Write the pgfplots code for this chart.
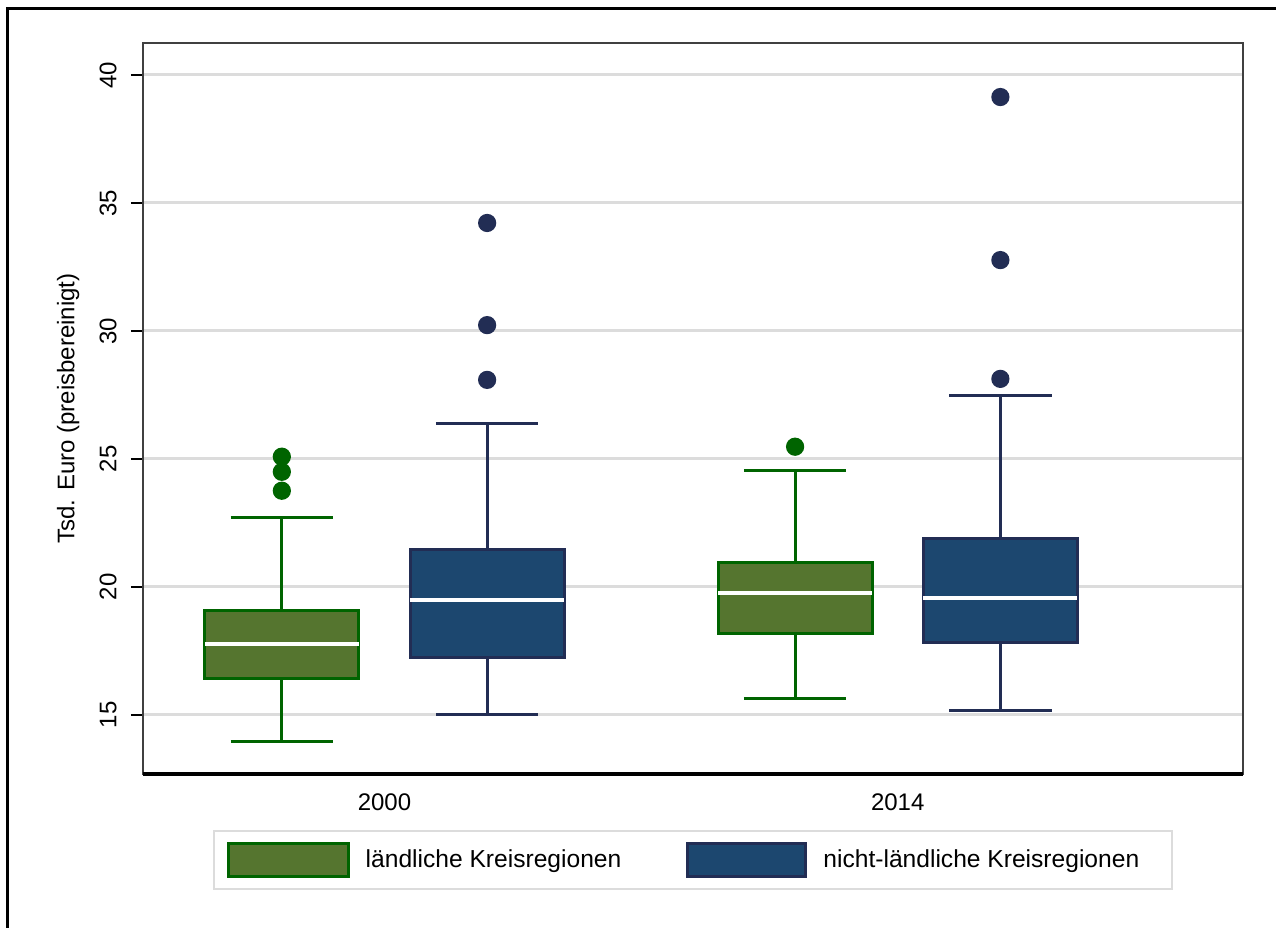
\documentclass[border=0pt]{standalone}
\usepackage{pgfplots}
\pgfplotsset{compat=1.18}
\usepgfplotslibrary{statistics}
\usepackage{fontspec}
\setmainfont{Liberation Sans}

\definecolor{gfill}{RGB}{85,117,47}
\definecolor{gline}{RGB}{0,100,0}
\definecolor{bfill}{RGB}{28,71,111}
\definecolor{bline}{RGB}{34,45,84}
\definecolor{gridgray}{RGB}{220,220,220}
\definecolor{framegray}{RGB}{64,64,64}

\pgfplotsset{
  gbox/.style={draw=gline, line width=1.5pt, mark=*, mark size=3.8pt,
    mark options={solid, fill=gline, draw=gline},
    boxplot/every box/.style={fill=gfill, draw=gline, line width=1.5pt},
    boxplot/every median/.style={draw=white, line width=2pt},
    forget plot},
  bbox/.style={draw=bline, line width=1.5pt, mark=*, mark size=3.8pt,
    mark options={solid, fill=bline, draw=bline},
    boxplot/every box/.style={fill=bfill, draw=bline, line width=1.5pt},
    boxplot/every median/.style={draw=white, line width=2pt},
    forget plot},
}

\begin{document}
\begin{tikzpicture}[font=\fontsize{12}{14}\selectfont]
\useasboundingbox (0,0) rectangle (638pt,464pt);
% outer frame (only top and left edges visible)
\draw[black, line width=1.5pt] (3.6pt,0) -- (3.6pt,459.6pt) -- (638pt,459.6pt);
\begin{axis}[
  at={(71.5pt,77pt)}, anchor=south west,
  scale only axis, width=550pt, height=365.5pt,
  xmin=0.5295, xmax=2.6727, ymin=12.695, ymax=41.25,
  boxplot/draw direction=y,
  xtick={1,2}, xticklabels={2000,2014},
  major x tick style={draw=none},
  xticklabel style={anchor=north, inner sep=0pt, yshift=-3.5pt},
  ytick={15,20,...,40},
  ytick pos=left, tick align=outside, major tick length=6pt,
  major y tick style={black, line width=1pt},
  yticklabel style={rotate=90, anchor=south, inner sep=0pt},
  yticklabel shift=7pt,
  /pgf/number format/assume math mode=true,
  ymajorgrids, major grid style={gridgray, line width=1.5pt},
  axis line style={framegray, line width=1pt},
  ylabel={Tsd. Euro (preisbereinigt)},
  ylabel style={at={(axis description cs:-0.068,0.5)}, anchor=center},
  legend style={at={(0.5,0)}, anchor=north, yshift=-28pt,
    draw=gridgray, line width=1pt, legend columns=2,
    inner xsep=6.5pt, inner ysep=5.5pt,
    font=\fontsize{12.3}{14}\selectfont,
    nodes={inner sep=0pt, anchor=west},
    /tikz/every odd column/.append style={column sep=8pt},
    /tikz/every even column/.append style={column sep=32.5pt}},
]
% 2000
\addplot[gbox, boxplot prepared={draw position=0.8,
  lower whisker=13.96, lower quartile=16.41, median=17.77,
  upper quartile=19.10, upper whisker=22.70,
  box extend=0.3, whisker extend=0.2}]
  coordinates {(0,25.09) (0,24.50) (0,23.76)};
\addplot[bbox, boxplot prepared={draw position=1.2,
  lower whisker=15.01, lower quartile=17.25, median=19.48,
  upper quartile=21.45, upper whisker=26.37,
  box extend=0.3, whisker extend=0.2}]
  coordinates {(0,34.22) (0,30.23) (0,28.09)};
% 2014
\addplot[gbox, boxplot prepared={draw position=1.8,
  lower whisker=15.64, lower quartile=18.19, median=19.75,
  upper quartile=20.96, upper whisker=24.57,
  box extend=0.3, whisker extend=0.2}]
  coordinates {(0,25.48)};
\addplot[bbox, boxplot prepared={draw position=2.2,
  lower whisker=15.17, lower quartile=17.83, median=19.58,
  upper quartile=21.90, upper whisker=27.47,
  box extend=0.3, whisker extend=0.2}]
  coordinates {(0,39.14) (0,32.77) (0,28.13)};

\addlegendimage{legend image code/.code={
  \draw[fill=gfill, draw=gline, line width=1.5pt] (0pt,-8.25pt) rectangle (60pt,8.25pt);}}
\addlegendentry{ländliche Kreisregionen}
\addlegendimage{legend image code/.code={
  \draw[fill=bfill, draw=bline, line width=1.5pt] (0pt,-8.25pt) rectangle (59pt,8.25pt);}}
\addlegendentry{nicht-ländliche Kreisregionen\hbox to 10pt{}}
\end{axis}
% thick black bottom axis line
\draw[black, line width=1.6pt] (71.5pt,77pt) -- (621.5pt,77pt);
\end{tikzpicture}
\end{document}
